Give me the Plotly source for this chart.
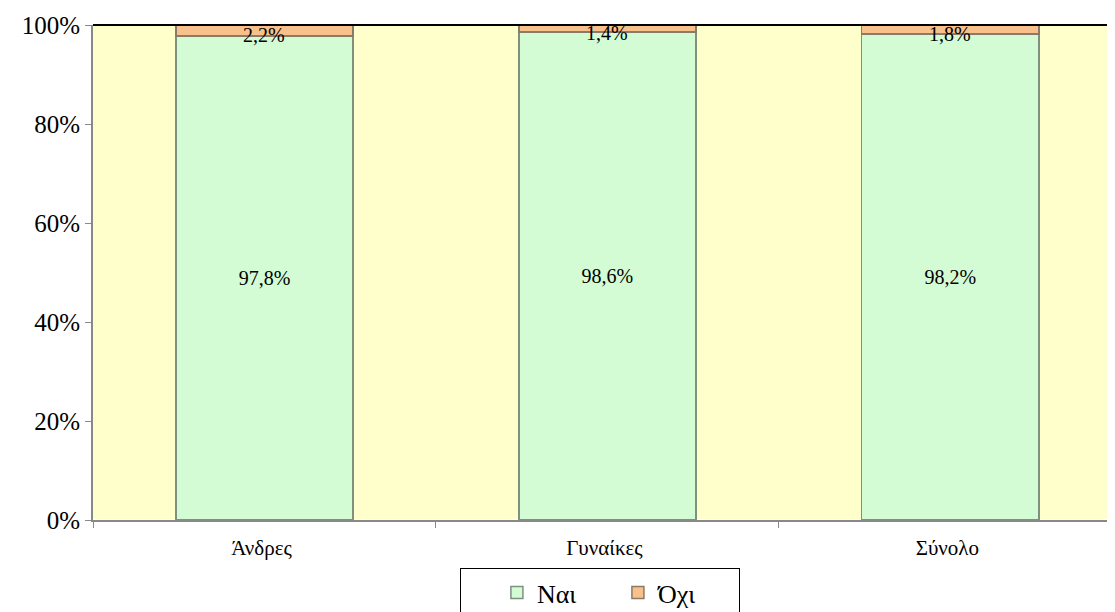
import plotly.graph_objects as go

categories = ["Άνδρες", "Γυναίκες", "Σύνολο"]
yes_vals = [97.8, 98.6, 98.2]
no_vals = [2.2, 1.4, 1.8]
series_names = ["Ναι", "Όχι"]
y_ticks = [0, 20, 40, 60, 80, 100]

def fmt(v):
    return f"{v:.1f}%".replace(".", ",")

FONT = "Liberation Serif, Times New Roman, serif"

fig = go.Figure()
fig.add_trace(go.Bar(
    x=categories, y=yes_vals, name=series_names[0],
    marker=dict(color="#D4FCD4", line=dict(color="#7F907F", width=1.5)),
    text=[fmt(v) for v in yes_vals], textposition="inside",
    insidetextanchor="middle", textangle=0,
    textfont=dict(family=FONT, size=20, color="black"),
    width=0.517,
))
fig.add_trace(go.Bar(
    x=categories, y=no_vals, name=series_names[1],
    marker=dict(color="#F8C08A", line=dict(color="#8A7A6A", width=1.5)),
    width=0.517,
))

for c, yv, nv in zip(categories, yes_vals, no_vals):
    fig.add_annotation(
        x=c, y=yv + nv / 2, text=fmt(nv), showarrow=False,
        yshift=-5,
        font=dict(family=FONT, size=20, color="black"),
    )

fig.add_shape(type="line", xref="paper", yref="paper", x0=0, x1=1, y0=1, y1=1,
              line=dict(color="black", width=2))

fig.update_layout(
    barmode="stack",
    width=1107, height=604,
    margin=dict(l=85, r=0, t=17, b=92, autoexpand=False),
    paper_bgcolor="white",
    plot_bgcolor="#FFFFCC",
    font=dict(family=FONT, color="black"),
    showlegend=True,
    legend=dict(
        orientation="h", traceorder="normal",
        x=0.496, xanchor="center", y=-0.097, yanchor="top",
        font=dict(family=FONT, size=26),
        bordercolor="black", borderwidth=1, bgcolor="white",
        entrywidth=76,
        title=dict(text="\u00a0\u00a0\u00a0\u00a0", side="left", font=dict(size=26)),
    ),
    xaxis=dict(
        range=[-0.5, 2.48],
        showgrid=False, showline=True, linecolor="#888888", linewidth=2,
        ticks="outside", tickson="boundaries", ticklen=6, tickcolor="#888888",
        tickfont=dict(family=FONT, size=21),
        ticklabelshift=-3, ticklabelstandoff=8,
    ),
    yaxis=dict(
        range=[0, 100], tickvals=y_ticks, ticktext=[f"{v}%" for v in y_ticks],
        showgrid=False, showline=True, linecolor="#888888", linewidth=2,
        ticks="outside", ticklen=6, tickcolor="#888888",
        tickfont=dict(family=FONT, size=25),
    ),
)

fig.write_html("out.html")
